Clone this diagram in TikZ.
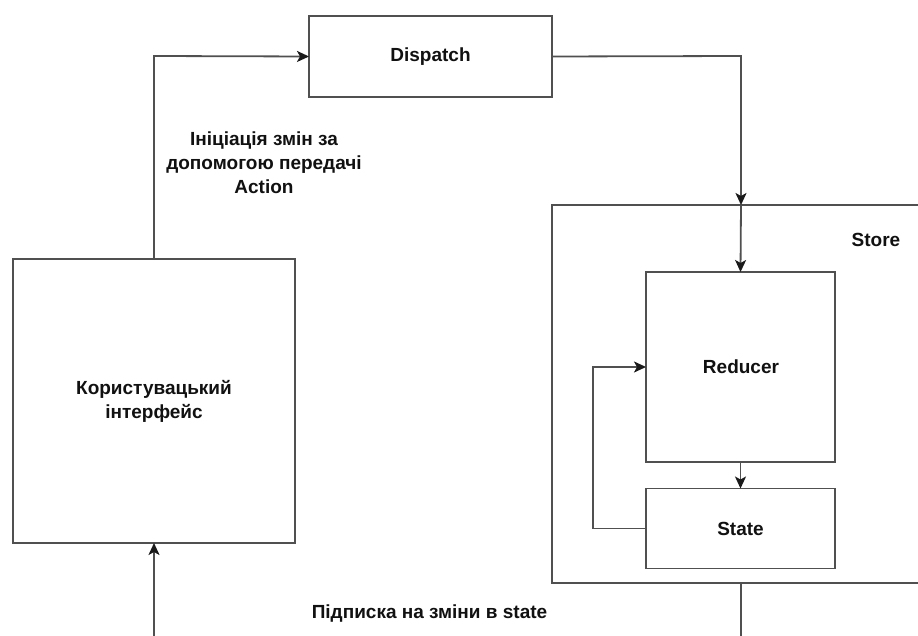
\documentclass[tikz,border=0pt]{standalone}
\usepackage{fontspec}
\setmainfont{Liberation Sans}
\usetikzlibrary{arrows.meta}
\definecolor{edge}{HTML}{505050}
\definecolor{ink}{HTML}{111111}
\definecolor{tip}{HTML}{1A1A1A}
\tikzset{
  box/.style={draw=edge, line width=1.8pt, fill=white, inner sep=0pt, outer sep=0pt,
    font=\bfseries\fontsize{19}{24}\selectfont, text=ink, align=center},
  lbl/.style={font=\bfseries\fontsize{19}{24}\selectfont, text=ink, align=center, inner sep=0pt},
  link/.style={draw=edge, line width=1.8pt},
  arr/.style={link, -{Stealth[length=12pt, width=11pt, inset=3pt, color=tip]}},
}
\begin{document}
\begin{tikzpicture}[x=1pt, y=-1pt]
  \clip (0,0) rectangle (918,636);
  \fill[white] (0,0) rectangle (918,636);

  % boxes
  \node[box, minimum width=243pt, minimum height=81pt] (dispatch) at (430.5,56.5) {Dispatch};
  \node[box, minimum width=282pt, minimum height=284pt] (ui) at (154,401) {Користувацький\\інтерфейс};
  \node[box, minimum width=380pt, minimum height=378pt] (store) at (742,394) {};
  \node[lbl] (storelbl) at (876,240) {Store};
  \node[box, minimum width=189pt, minimum height=190pt] (reducer) at (740.5,367) {};
  \node[lbl] (reducerlbl) at (741,367) {Reducer};
  \node[box, minimum width=189pt, minimum height=80pt] (state) at (740.5,528.5) {State};

  % connector corners
  \coordinate (c1) at (154,56);
  \coordinate (c2) at (741,56);
  \coordinate (sin) at (741,205);
  \coordinate (c3) at (593,528.5);
  \coordinate (c4) at (593,367);
  \coordinate (sout) at (741,583);
  \coordinate (c5) at (741,660);
  \coordinate (c6) at (154,660);

  % connectors
  \draw[arr] (ui.north) -- (c1) -- (dispatch.west);
  \draw[arr] (dispatch.east) -- (c2) -- (sin);
  \draw[arr] (sin) -- (reducer.north);
  \draw[arr] (reducer.south) -- (state.north);
  \draw[arr] (state.west) -- (c3) -- (c4) -- (reducer.west);
  \draw[arr] (sout) -- (c5) -- (c6) -- (ui.south);

  % labels
  \node[lbl] (initlbl) at (264,163) {Ініціація змін за\\допомогою передачі\\Action};
  \node[lbl] (sublbl) at (429.5,614) {Підписка на зміни в state};
\end{tikzpicture}
\end{document}
